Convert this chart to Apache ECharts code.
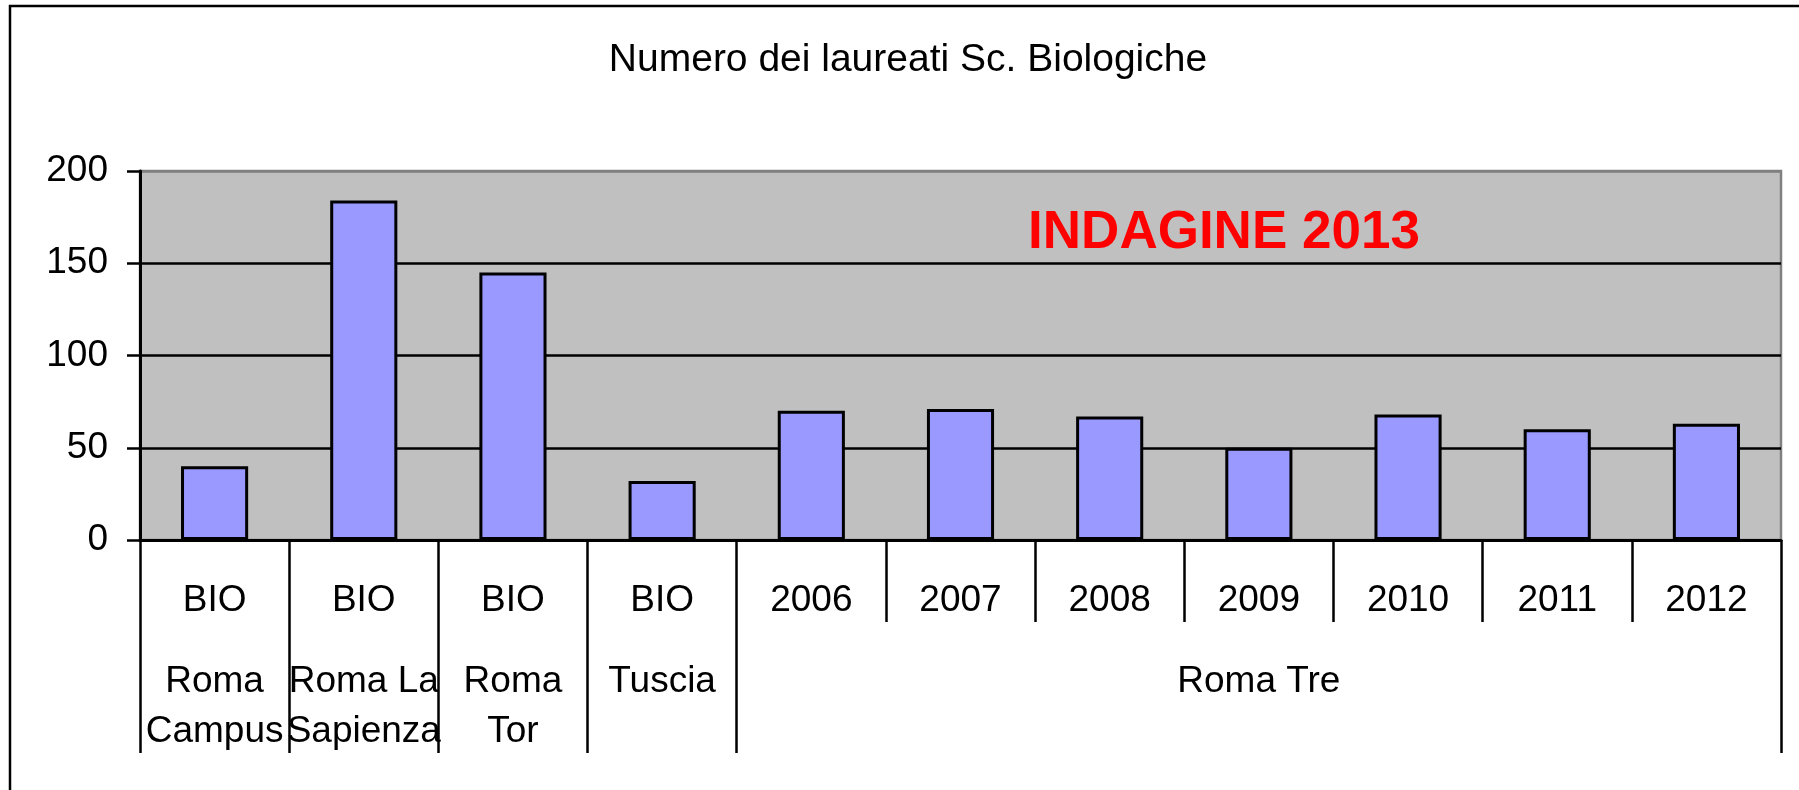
<!DOCTYPE html>
<html>
<head>
<meta charset="utf-8">
<title>Numero dei laureati Sc. Biologiche</title>
<script src="https://cdn.jsdelivr.net/npm/echarts@6/dist/echarts.min.js"></script>
<style>
  html, body { margin: 0; padding: 0; background: #fff; }
  #chart { width: 1799px; height: 790px; }
</style>
</head>
<body>
<div id="chart"></div>
<script>
// first row of the axis: course / year
var categories = ['BIO', 'BIO', 'BIO', 'BIO', '2006', '2007', '2008', '2009', '2010', '2011', '2012'];
// graduates per category
var graduates = [40, 184, 145, 32, 70, 71, 67, 50, 68, 60, 63];
// second row: university groups and how many categories each one spans
var groupNames = ['Roma\nCampus', 'Roma La\nSapienza', 'Roma\nTor', 'Tuscia', 'Roma Tre'];
var groupSizes = [1, 1, 1, 1, 7];
var yTicks = [0, 50, 100, 150, 200];

var font = "'Liberation Sans', Arial, sans-serif";

// one label per category, group name sits on the middle one
var groupLabels = [];
var groupStarts = [];
var pos = 0;
groupSizes.forEach(function(size, i) {
	groupStarts.push(pos);
	for (var k = 0; k < size; k++) {
		groupLabels.push(k === Math.floor(size / 2) ? groupNames[i] : '');
	}
	pos += size;
});

var myChart = echarts.init(document.getElementById('chart'));

var option = {
	animation: false,
	backgroundColor: '#fff',
	graphic: [
		{
			type: 'rect',
			shape: { x: 10, y: 6, width: 1820, height: 820 },
			style: { fill: 'none', stroke: '#000', lineWidth: 2.5 },
			silent: true
		},
		{
			type: 'text',
			x: 908, y: 60,
			style: {
				text: 'Numero dei laureati Sc. Biologiche',
				font: '39px ' + font,
				fill: '#000',
				textAlign: 'center',
				textVerticalAlign: 'middle'
			}
		},
		{
			type: 'text',
			x: 1224, y: 233, z: 10,
			style: {
				text: 'INDAGINE 2013',
				font: 'bold 53px ' + font,
				fill: '#ff0000',
				textAlign: 'center',
				textVerticalAlign: 'middle'
			}
		}
	],
	grid: {
		left: 140, right: 18, top: 171, bottom: 250,
		show: true,
		backgroundColor: '#c0c0c0',
		borderColor: '#808080',
		borderWidth: 2.5,
		outerBoundsMode: 'none'
	},
	xAxis: [
		{
			type: 'category',
			position: 'bottom',
			data: categories,
			axisLine: { show: true, lineStyle: { color: '#000', width: 3 } },
			axisTick: { show: true, length: 82, lineStyle: { color: '#000', width: 2.5 } },
			axisLabel: {
				interval: 0,
				margin: 36,
				fontSize: 37,
				lineHeight: 50,
				fontFamily: font,
				color: '#000'
			},
			splitLine: { show: false }
		},
		{
			type: 'category',
			position: 'bottom',
			data: groupLabels,
			axisLine: { show: false },
			axisTick: {
				show: true,
				length: 213,
				interval: function(index) { return groupStarts.indexOf(index) >= 0; },
				lineStyle: { color: '#000', width: 2.5 }
			},
			axisLabel: {
				interval: 0,
				margin: 117,
				fontSize: 37,
				lineHeight: 50,
				fontFamily: font,
				color: '#000',
				verticalAlign: 'top'
			},
			splitLine: { show: false }
		}
	],
	yAxis: {
		type: 'value',
		min: yTicks[0],
		max: yTicks[yTicks.length - 1],
		interval: 50,
		axisLine: { show: true, lineStyle: { color: '#000', width: 3 } },
		axisTick: { show: true, length: 13, lineStyle: { color: '#000', width: 2.5 } },
		axisLabel: { margin: 32, fontSize: 37, fontFamily: font, color: '#000', padding: [3, 0, 0, 0] },
		splitLine: {
			show: true,
			lineStyle: { color: ['#000', '#000', '#000', '#000', '#808080'], width: 2.5 }
		}
	},
	series: [
		{
			type: 'bar',
			xAxisIndex: 0,
			data: graduates,
			barWidth: '45%',
			itemStyle: { color: '#9999ff', borderColor: '#000', borderWidth: 3 }
		}
	]
};

myChart.setOption(option);
</script>
</body>
</html>
